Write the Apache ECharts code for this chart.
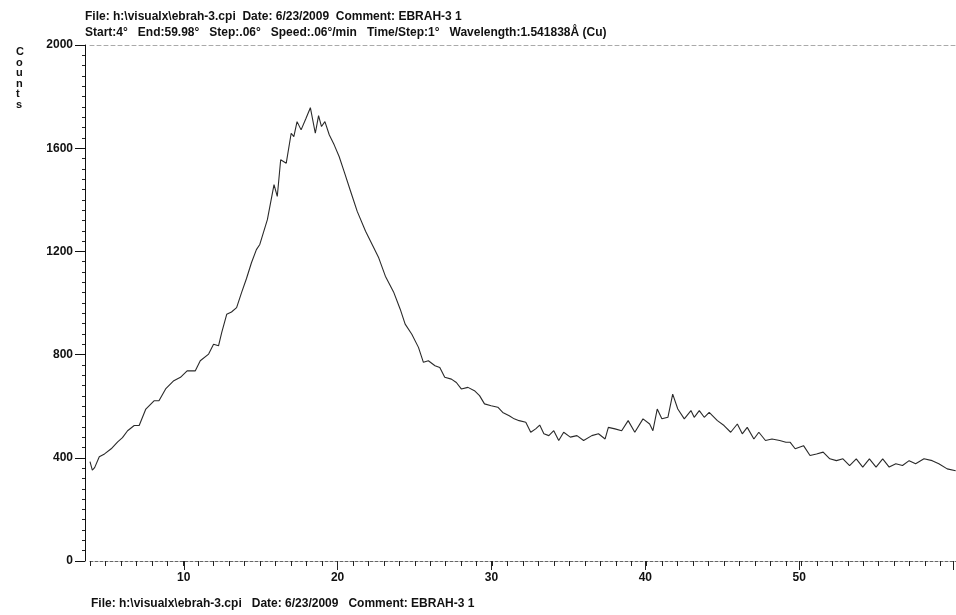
<!DOCTYPE html>
<html>
<head>
    <meta charset="UTF-8">
    <title>EBRAH-3 XRD</title>
    <script src="https://cdn.jsdelivr.net/npm/echarts@6/dist/echarts.min.js"></script>
    <style>
        html, body { margin: 0; padding: 0; background: #fff; }
        #container { width: 956px; height: 615px; }
    </style>
</head>
<body>
<div id="container"></div>
<script>
    // 2-theta (deg) and counts
    var twoTheta = [
        4.0, 4.15, 4.3, 4.6, 4.94, 5.37, 5.79, 6.1, 6.43, 6.86, 7.18, 7.61, 8.14, 8.46, 8.89,
        9.42, 9.85, 10.28, 10.81, 11.13, 11.67, 11.99, 12.31, 12.52, 12.84, 13.15, 13.48, 13.8,
        14.12, 14.44, 14.76, 14.98, 15.47, 15.9, 16.11, 16.33, 16.69, 17.01, 17.18, 17.39, 17.65,
        17.97, 18.25, 18.57, 18.78, 18.97, 19.19, 19.47, 19.79, 20.11, 20.43, 20.85, 21.28, 21.82,
        22.35, 22.67, 23.1, 23.63, 24.06, 24.38, 24.81, 25.24, 25.56, 25.88, 26.31, 26.62, 26.94,
        27.37, 27.69, 28.01, 28.44, 28.86, 29.19, 29.51, 29.94, 30.37, 30.69, 31.11, 31.43, 31.75,
        32.18, 32.5, 32.82, 33.08, 33.35, 33.67, 33.99, 34.31, 34.63, 35.06, 35.49, 35.92, 36.45,
        36.88, 37.31, 37.52, 37.95, 38.38, 38.8, 39.23, 39.76, 40.19, 40.4, 40.68, 40.98, 41.37,
        41.68, 42.01, 42.43, 42.86, 43.07, 43.4, 43.72, 44.04, 44.57, 45.0, 45.43, 45.86, 46.18,
        46.5, 46.93, 47.25, 47.68, 48.1, 48.6, 49.0, 49.28, 49.6, 50.14, 50.56, 50.98, 51.41,
        51.84, 52.27, 52.69, 53.12, 53.55, 53.97, 54.4, 54.83, 55.26, 55.68, 56.11, 56.54, 56.97,
        57.39, 57.93, 58.46, 58.89, 59.43, 59.98
    ];
    var counts = [
        385, 352, 362, 404, 415, 435, 462, 478, 505, 525, 525, 589, 621, 621, 667,
        699, 712, 737, 737, 776, 802, 840, 834, 886, 956, 965, 982, 1040,
        1095, 1156, 1207, 1227, 1323, 1459, 1413, 1555, 1542, 1658, 1645, 1703, 1671,
        1716, 1757, 1658, 1726, 1684, 1703, 1652, 1613, 1568, 1510, 1433, 1355, 1278,
        1214, 1175, 1104, 1043, 976, 918, 879, 828, 770, 776, 757, 750, 712,
        705, 692, 667, 673, 660, 641, 609, 602, 596, 576, 563, 551, 544,
        538, 499, 512, 527, 493, 486, 505, 467, 499, 480, 486, 467, 486,
        493, 473, 518, 512, 505, 544, 499, 551, 531, 505, 589, 551, 557,
        647, 589, 551, 583, 557, 583, 557, 576, 544, 525, 499, 531, 493,
        518, 473, 499, 467, 473, 467, 460, 460, 435, 447, 409, 415, 422,
        396, 389, 396, 370, 396, 364, 396, 364, 396, 364, 377, 370, 389,
        377, 396, 389, 377, 357, 350
    ];
    var yTicks = [0, 400, 800, 1200, 1600, 2000];
    var xTicks = [10, 20, 30, 40, 50];

    var headerLine1 = 'File: h:\\visualx\\ebrah-3.cpi  Date: 6/23/2009  Comment: EBRAH-3 1';
    var headerLine2 = 'Start:4°   End:59.98°   Step:.06°   Speed:.06°/min   Time/Step:1°   Wavelength:1.541838Å (Cu)';
    var footerLine = 'File: h:\\visualx\\ebrah-3.cpi   Date: 6/23/2009   Comment: EBRAH-3 1';

    var pts = twoTheta.map(function (x, i) { return [x, counts[i]]; });
    var font = "'Liberation Sans', Arial, sans-serif";

    var myChart = echarts.init(document.getElementById('container'));
    myChart.setOption({
        animation: false,
        backgroundColor: '#fff',
        title: [{
            text: headerLine1,
            subtext: headerLine2,
            left: 80, top: 6, itemGap: 4,
            textStyle: { fontFamily: font, fontSize: 12, fontWeight: 'bold', color: '#111' },
            subtextStyle: { fontFamily: font, fontSize: 12, fontWeight: 'bold', color: '#111' }
        }, {
            text: footerLine,
            left: 86, top: 593,
            textStyle: { fontFamily: font, fontSize: 12, fontWeight: 'bold', color: '#111' }
        }, {
            text: 'C\no\nu\nn\nt\ns',
            left: 11, top: 42,
            textStyle: { fontFamily: font, fontSize: 11, fontWeight: 'bold', color: '#111', lineHeight: 10.5 }
        }],
        grid: [
            { left: 90, top: 45, width: 875, height: 516 },
            { left: 183.75, top: 45, width: 781.25, height: 516 }
        ],
        xAxis: [{
            gridIndex: 0, type: 'value', min: 4, max: 60, interval: 1,
            axisLine: { lineStyle: { color: '#666', type: [3, 2], width: 1 } },
            axisTick: { length: 5, lineStyle: { color: '#222' } },
            axisLabel: { show: false },
            splitLine: { show: false }
        }, {
            gridIndex: 1, type: 'value', min: 10, max: 60, interval: 10,
            axisLine: { show: false },
            axisTick: { length: 9, lineStyle: { color: '#222' } },
            axisLabel: {
                margin: 11, color: '#111', fontFamily: font, fontSize: 12, fontWeight: 'bold',
                formatter: function (v) { return xTicks.indexOf(v) >= 0 ? String(v) : ''; }
            },
            splitLine: { show: false }
        }, {
            gridIndex: 0, type: 'value', position: 'top', min: 4, max: 60,
            axisLine: { lineStyle: { color: '#aaa', type: [4, 3], width: 1 } },
            axisTick: { show: false },
            axisLabel: { show: false },
            splitLine: { show: false }
        }],
        yAxis: [{
            gridIndex: 0, type: 'value', min: 0, max: 2000, interval: 400, offset: 5,
            axisLine: { show: true, lineStyle: { color: '#111', width: 1 } },
            axisTick: { length: 10, lineStyle: { color: '#111' } },
            minorTick: { show: true, splitNumber: 10, length: 3, lineStyle: { color: '#222' } },
            axisLabel: {
                margin: 12, color: '#111', fontFamily: font, fontSize: 12, fontWeight: 'bold',
                formatter: function (v) { return yTicks.indexOf(v) >= 0 ? String(v) : ''; }
            },
            splitLine: { show: false }
        }, {
            gridIndex: 1, type: 'value', min: 0, max: 2000, show: false
        }],
        series: [{
            type: 'line',
            xAxisIndex: 0,
            yAxisIndex: 0,
            data: pts,
            showSymbol: false,
            lineStyle: { color: '#2a2a2a', width: 1.1 }
        }]
    });
</script>
</body>
</html>
